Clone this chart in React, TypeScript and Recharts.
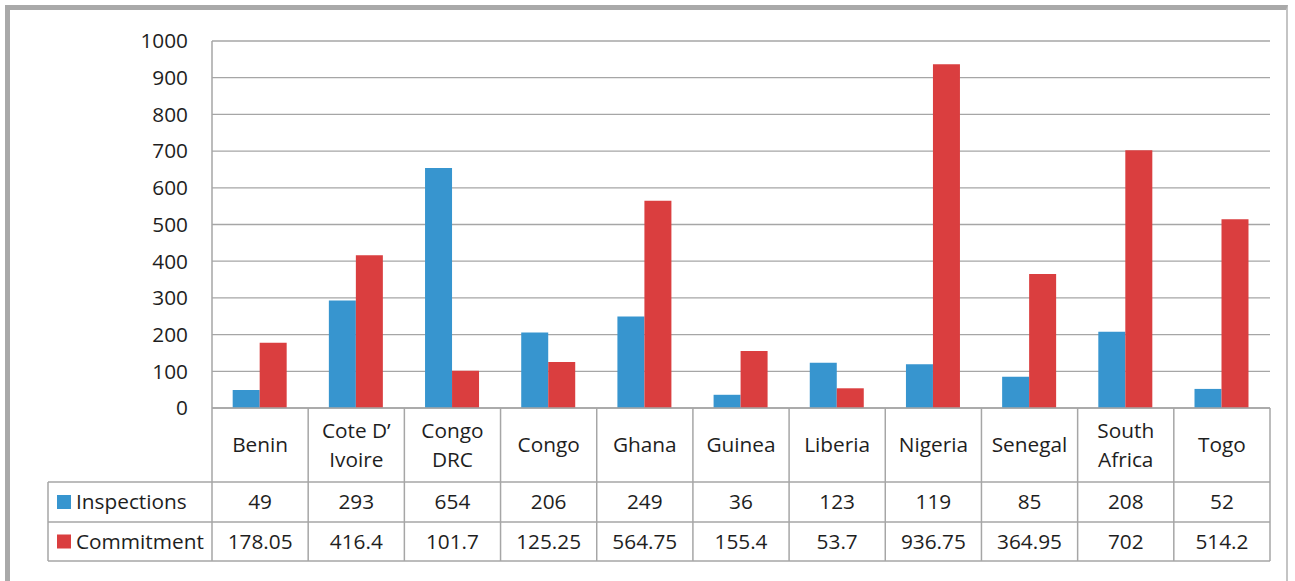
import React from 'react';
import { BarChart, Bar, XAxis, YAxis, CartesianGrid } from 'recharts';

const countries = ['Benin', 'Cote D’\nIvoire', 'Congo\nDRC', 'Congo', 'Ghana', 'Guinea', 'Liberia', 'Nigeria', 'Senegal', 'South\nAfrica', 'Togo'];
const inspections = [49, 293, 654, 206, 249, 36, 123, 119, 85, 208, 52];
const commitment = [178.05, 416.4, 101.7, 125.25, 564.75, 155.4, 53.7, 936.75, 364.95, 702, 514.2];
const yTicks = [0, 100, 200, 300, 400, 500, 600, 700, 800, 900, 1000];

const data = countries.map((country, i) => ({
  country,
  inspections: inspections[i],
  commitment: commitment[i],
}));

const W = 1295;
const H = 581;
const Y_AXIS_W = 80;
const MARGIN = { top: 41, right: 25, bottom: 0, left: 212 - Y_AXIS_W };
const X_AXIS_H = 173;
const PLOT_LEFT = MARGIN.left + Y_AXIS_W;
const PLOT_RIGHT = W - MARGIN.right;
const PLOT_BOTTOM = H - MARGIN.bottom - X_AXIS_H;
const BAND = (PLOT_RIGHT - PLOT_LEFT) / countries.length;

const ROW1 = PLOT_BOTTOM + 74; // end of category row
const ROW2 = ROW1 + 40;
const ROW3 = ROW2 + 39;
const TABLE_LEFT = 48;

const BLUE = '#3795cf';
const RED = '#da3e3f';
const LINE = '#a6a6a6';
const TEXT = '#1e1e1e';
const FONT = '"Open Sans", sans-serif';
const FS = 20.8;

const TableColumn = (props: any) => {
  const { x, payload, index } = props;
  const lines = String(payload.value).split('\n');
  const rowMid = (PLOT_BOTTOM + ROW1) / 2;
  const left = x - BAND / 2;
  const right = x + BAND / 2;
  return (
    <g fontFamily={FONT} fontSize={FS} fill={TEXT}>
      {index === 0 && (
        <g>
          <line x1={TABLE_LEFT} x2={PLOT_RIGHT} y1={ROW1} y2={ROW1} stroke={LINE} strokeWidth={1.5} />
          <line x1={TABLE_LEFT} x2={PLOT_RIGHT} y1={ROW2} y2={ROW2} stroke={LINE} strokeWidth={1.5} />
          <line x1={TABLE_LEFT} x2={PLOT_RIGHT} y1={ROW3} y2={ROW3} stroke={LINE} strokeWidth={1.5} />
          <line x1={TABLE_LEFT} x2={TABLE_LEFT} y1={ROW1} y2={ROW3} stroke={LINE} strokeWidth={1.5} />
          <line x1={left} x2={left} y1={PLOT_BOTTOM} y2={ROW3} stroke={LINE} strokeWidth={1.5} />
          <rect x={57} y={(ROW1 + ROW2) / 2 - 7} width={14} height={14} fill={BLUE} />
          <text x={76} y={(ROW1 + ROW2) / 2 - 1} dominantBaseline="central" fill={TEXT}>Inspections</text>
          <rect x={57} y={(ROW2 + ROW3) / 2 - 7} width={14} height={14} fill={RED} />
          <text x={76} y={(ROW2 + ROW3) / 2 - 1} dominantBaseline="central" fill={TEXT}>Commitment</text>
        </g>
      )}
      <line x1={right} x2={right} y1={PLOT_BOTTOM} y2={ROW3} stroke={LINE} strokeWidth={1.5} />
      {lines.map((t, i) => (
        <text
          key={i}
          x={x}
          y={rowMid - 1 + (i - (lines.length - 1) / 2) * 29}
          textAnchor="middle"
          dominantBaseline="central"
          fill={TEXT}
        >
          {t}
        </text>
      ))}
      <text x={x} y={(ROW1 + ROW2) / 2 - 1} textAnchor="middle" dominantBaseline="central" fill={TEXT}>
        {String(inspections[index])}
      </text>
      <text x={x} y={(ROW2 + ROW3) / 2 - 1} textAnchor="middle" dominantBaseline="central" fill={TEXT}>
        {String(commitment[index])}
      </text>
    </g>
  );
};

export default function App() {
  return (
    <div style={{ position: 'absolute', left: 0, top: 0, width: W, height: H, background: '#fff', overflow: 'hidden' }}>
      <div
        style={{
          position: 'absolute',
          left: 5,
          top: 5,
          width: 1283,
          height: 600,
          borderTop: '5px solid #a9a9a9',
          borderLeft: '5px solid #a9a9a9',
          borderRight: '2px solid #c4c4c4',
          boxSizing: 'border-box',
        }}
      />
      <div style={{ position: 'absolute', left: 0, top: 0 }}>
        <BarChart width={W} height={H} data={data} margin={MARGIN} barCategoryGap="21.5%" barGap={0}>
          <CartesianGrid vertical={false} stroke={LINE} strokeWidth={1.3} />
          <XAxis
            dataKey="country"
            height={X_AXIS_H}
            interval={0}
            tickLine={false}
            axisLine={{ stroke: LINE, strokeWidth: 1.5 }}
            tick={<TableColumn />}
          />
          <YAxis
            width={Y_AXIS_W}
            domain={[0, 1000]}
            ticks={yTicks}
            interval={0}
            tickSize={0}
            tickMargin={24}
            axisLine={{ stroke: LINE, strokeWidth: 1.5 }}
            tick={{ fill: TEXT, fontSize: FS, fontFamily: FONT }}
          />
          <Bar dataKey="inspections" fill={BLUE} isAnimationActive={false} />
          <Bar dataKey="commitment" fill={RED} isAnimationActive={false} />
        </BarChart>
      </div>
    </div>
  );
}
